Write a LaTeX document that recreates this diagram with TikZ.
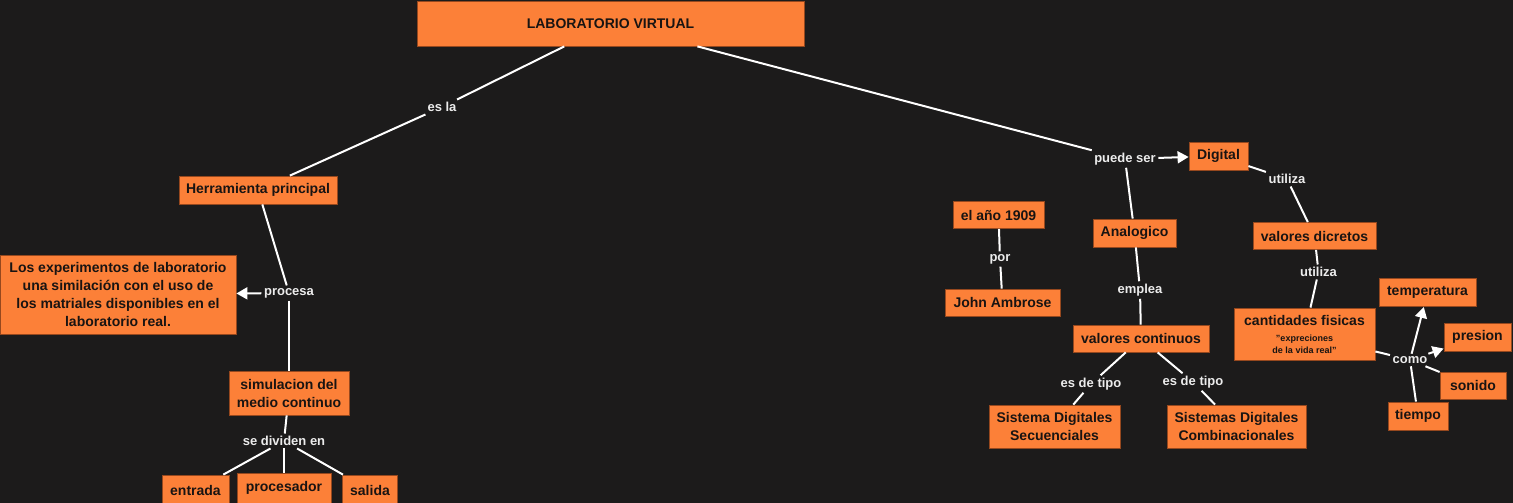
\documentclass[tikz,border=0pt]{standalone}
\usepackage{fontspec}
\setmainfont{Liberation Sans}
\definecolor{board}{RGB}{28,27,27}
\definecolor{tangerine}{RGB}{252,128,56}
\definecolor{rust}{RGB}{150,72,30}
\definecolor{chalk}{RGB}{236,236,236}
\definecolor{ink}{RGB}{25,20,18}
\newcommand\notefont{\fontsize{9}{11}\selectfont}
\usetikzlibrary{arrows.meta}

\begin{document}
\begin{tikzpicture}[x=1pt,y=-1pt,
    idea/.style={draw=rust,line width=0.8pt,fill=tangerine,text=ink,align=center,inner sep=0pt,
      font=\fontsize{14}{18}\selectfont\bfseries},
    phrase/.style={text=chalk,inner sep=2.5pt,font=\fontsize{13}{15}\selectfont\bfseries},
    wire/.style={draw=white,line width=2pt},
    wirearrow/.style={wire,-{Triangle[length=11pt,width=12pt]}}]
        \path[use as bounding box,fill=board] (0,0) rectangle (1513,503);
        % conceptos, izquierda
        \node[idea,minimum width=387,minimum height=45] (lab) at (610.5,23.5) {LABORATORIO VIRTUAL};
        \node[idea,minimum width=158,minimum height=28] (herr) at (258,190) {Herramienta principal};
        \node[idea,minimum width=236,minimum height=79] (exper) at (118,294.5)
          {Los experimentos de laboratorio\\una similación con el uso de\\los matriales disponibles en el\\laboratorio real.};
        \node[idea,minimum width=120,minimum height=44] (sim) at (289,393) {simulacion del\\medio continuo};
        \node[idea,minimum width=67,minimum height=30] (entrada) at (195.5,490) {entrada};
        \node[idea,minimum width=94,minimum height=30] (proc) at (284,488) {procesador};
        \node[idea,minimum width=55,minimum height=30] (salida) at (370,490) {salida};
        % conceptos, derecha
        \node[idea,minimum width=91,minimum height=27] (anio) at (998.5,215) {el año 1909};
        \node[idea,minimum width=115,minimum height=27] (john) at (1002.5,302.5) {John Ambrose};
        \node[idea,minimum width=59,minimum height=28] (digital) at (1218.5,156) {Digital};
        \node[idea,minimum width=83,minimum height=28] (analog) at (1134.5,233) {Analogico};
        \node[idea,minimum width=136,minimum height=27] (valcont) at (1141,338.5) {valores continuos};
        \node[idea,minimum width=131,minimum height=43] (secuen) at (1054.5,426.5) {Sistema Digitales\\Secuenciales};
        \node[idea,minimum width=139,minimum height=43] (combin) at (1236.5,426.5) {Sistemas Digitales\\Combinacionales};
        \node[idea,minimum width=123,minimum height=27] (valdisc) at (1314.5,236) {valores dicretos};
        \node[idea,minimum width=141,minimum height=52] (cantid) at (1304.5,334)
          {cantidades fisicas\\[-2pt]\notefont"expreciones\\[-6pt]\notefont de la vida real"};
        \node[idea,minimum width=97,minimum height=28] (temp) at (1427.5,292.5) {temperatura};
        \node[idea,minimum width=67,minimum height=28] (presion) at (1477.5,337) {presion};
        \node[idea,minimum width=66,minimum height=27] (sonido) at (1473,385.5) {sonido};
        \node[idea,minimum width=60,minimum height=28] (tiempo) at (1418,416) {tiempo};
        % frases de enlace
        \node[phrase] (esla) at (442,107) {es la};
        \node[phrase] (procesa) at (289,293) {procesa};
        \node[phrase] (dividen) at (284,441) {se dividen en};
        \node[phrase] (puede) at (1125,159) {puede ser};
        \node[phrase] (por) at (1000,259) {por};
        \node[phrase] (emplea) at (1140,290) {emplea};
        \node[phrase] (tipoA) at (1091,384) {es de tipo};
        \node[phrase] (tipoB) at (1193,382) {es de tipo};
        \node[phrase] (utilA) at (1287,179) {utiliza};
        \node[phrase] (utilB) at (1318.5,272) {utiliza};
        \node[phrase] (como) at (1410,360) {como};
        % conectores
        \draw[wire] (lab) -- (esla) -- (herr);
        \draw[wire] (herr) -- (procesa);
        \draw[wirearrow] (procesa) -- (exper);
        \draw[wire] (procesa) -- (sim);
        \draw[wire] (sim) -- (dividen);
        \draw[wire] (dividen) -- (entrada);
        \draw[wire] (dividen) -- (proc);
        \draw[wire] (dividen) -- (salida);
        \draw[wire] (lab) -- (puede);
        \draw[wirearrow] (puede) -- (digital);
        \draw[wire] (puede) -- (analog);
        \draw[wire] (anio) -- (por) -- (john);
        \draw[wire] (analog) -- (emplea) -- (valcont);
        \draw[wire] (valcont) -- (tipoA) -- (secuen);
        \draw[wire] (valcont) -- (tipoB) -- (combin);
        \draw[wire] (digital) -- (utilA) -- (valdisc);
        \draw[wire] (valdisc) -- (utilB) -- (cantid);
        \draw[wire] (cantid) -- (como);
        \draw[wirearrow] (como) -- (temp);
        \draw[wirearrow] (como) -- (presion);
        \draw[wire] (como) -- (sonido);
        \draw[wire] (como) -- (tiempo);
      \end{tikzpicture}
\end{document}
